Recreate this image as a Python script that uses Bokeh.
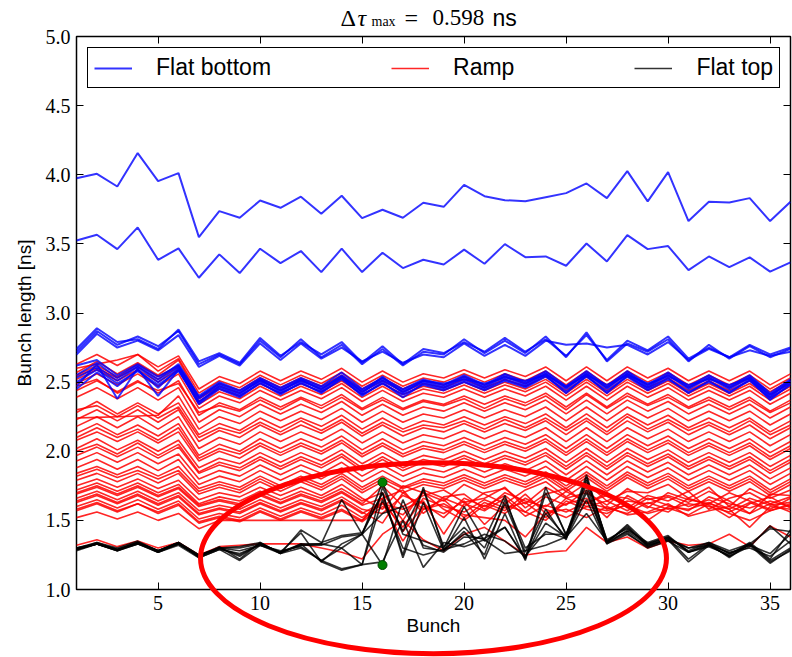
import numpy as np
from bokeh.plotting import figure
from bokeh.layouts import column
from bokeh.models import (FixedTicker, PrintfTickFormatter, LinearAxis, Range1d, Label,
                          Legend, LegendItem)
from bokeh.embed import file_html
from bokeh.resources import INLINE

bunches = list(range(1, 37))
x_ticks = [5, 10, 15, 20, 25, 30, 35]
y_ticks = [1.0, 1.5, 2.0, 2.5, 3.0, 3.5, 4.0, 4.5, 5.0]
title_value = "0.598"

# ---- Flat bottom (blue) ----
blue_1 = [3.975,4.007,3.915,4.157,3.954,4.012,3.549,3.737,3.689,3.814,3.761,3.841,3.718,3.848,3.686,3.747,3.689,3.797,3.768,3.927,3.845,3.816,3.809,3.838,3.867,3.937,3.831,4.026,3.807,4.019,3.665,3.804,3.800,3.831,3.665,3.804]
blue_2 = [3.525,3.566,3.462,3.619,3.385,3.467,3.255,3.424,3.289,3.465,3.361,3.448,3.296,3.465,3.296,3.436,3.325,3.385,3.351,3.458,3.356,3.498,3.404,3.409,3.342,3.503,3.373,3.563,3.462,3.484,3.310,3.409,3.332,3.402,3.299,3.366]
blue_3 = [2.72,2.87,2.77,2.83,2.76,2.87,2.63,2.70,2.63,2.80,2.68,2.81,2.68,2.77,2.63,2.74,2.62,2.72,2.70,2.81,2.71,2.80,2.71,2.83,2.68,2.86,2.65,2.78,2.72,2.81,2.65,2.77,2.67,2.76,2.68,2.74]
blue_4 = [2.70,2.85,2.75,2.80,2.73,2.84,2.61,2.69,2.62,2.78,2.66,2.78,2.67,2.75,2.65,2.72,2.64,2.70,2.68,2.78,2.69,2.77,2.69,2.80,2.77,2.78,2.75,2.77,2.70,2.79,2.66,2.74,2.68,2.73,2.69,2.72]
blue_5 = [2.74,2.89,2.79,2.81,2.74,2.88,2.65,2.71,2.64,2.82,2.69,2.79,2.70,2.79,2.64,2.76,2.63,2.74,2.71,2.79,2.72,2.82,2.72,2.81,2.69,2.84,2.66,2.80,2.73,2.83,2.67,2.75,2.68,2.77,2.70,2.75]
blue_6 = [2.53,2.61,2.51,2.61,2.50,2.61,2.38,2.48,2.42,2.51,2.44,2.51,2.45,2.55,2.43,2.51,2.43,2.50,2.46,2.53,2.46,2.54,2.48,2.56,2.45,2.56,2.45,2.56,2.46,2.55,2.45,2.53,2.45,2.53,2.40,2.50]
blue_7 = [2.50,2.59,2.49,2.58,2.48,2.58,2.36,2.46,2.40,2.49,2.42,2.49,2.43,2.52,2.41,2.49,2.41,2.48,2.44,2.50,2.44,2.51,2.46,2.54,2.43,2.54,2.43,2.54,2.44,2.52,2.43,2.50,2.43,2.51,2.38,2.48]
blue_8 = [2.55,2.64,2.53,2.62,2.52,2.63,2.40,2.50,2.44,2.53,2.46,2.53,2.47,2.57,2.45,2.53,2.45,2.52,2.48,2.55,2.48,2.56,2.50,2.58,2.47,2.58,2.47,2.58,2.48,2.57,2.47,2.55,2.47,2.55,2.42,2.52]
blue_9 = [2.47,2.63,2.38,2.60,2.40,2.59,2.34,2.45,2.39,2.50,2.41,2.50,2.42,2.53,2.40,2.50,2.39,2.49,2.45,2.51,2.45,2.52,2.47,2.55,2.42,2.55,2.42,2.55,2.45,2.53,2.42,2.51,2.42,2.52,2.37,2.49]
blue_10 = [2.62,2.66,2.55,2.63,2.54,2.62,2.39,2.49,2.43,2.52,2.45,2.52,2.44,2.54,2.44,2.52,2.44,2.51,2.47,2.54,2.47,2.55,2.49,2.57,2.46,2.57,2.46,2.57,2.47,2.56,2.46,2.54,2.46,2.54,2.41,2.51]
blue_11 = [2.45,2.57,2.47,2.59,2.46,2.60,2.35,2.47,2.41,2.52,2.43,2.52,2.46,2.54,2.42,2.54,2.42,2.51,2.49,2.52,2.49,2.53,2.51,2.55,2.47,2.55,2.48,2.55,2.49,2.54,2.48,2.52,2.48,2.53,2.39,2.51]
flat_bottom = [blue_1, blue_2, blue_3, blue_4, blue_5, blue_6, blue_7, blue_8, blue_9, blue_10, blue_11]

# ---- Ramp (red) ----
red_1 = [2.63,2.70,2.62,2.70,2.61,2.69,2.45,2.54,2.49,2.58,2.51,2.58,2.52,2.60,2.50,2.58,2.50,2.56,2.53,2.59,2.53,2.59,2.54,2.61,2.51,2.61,2.51,2.61,2.53,2.60,2.51,2.58,2.51,2.58,2.48,2.56]
red_2 = [2.60,2.63,2.66,2.70,2.58,2.67,2.42,2.51,2.46,2.55,2.48,2.55,2.49,2.57,2.47,2.55,2.47,2.53,2.50,2.56,2.50,2.56,2.51,2.58,2.48,2.58,2.48,2.58,2.50,2.57,2.48,2.55,2.48,2.55,2.45,2.53]
red_3 = [2.57,2.65,2.56,2.64,2.55,2.66,2.39,2.49,2.44,2.53,2.46,2.53,2.47,2.55,2.45,2.53,2.45,2.51,2.48,2.54,2.48,2.54,2.49,2.56,2.46,2.56,2.46,2.56,2.48,2.55,2.46,2.53,2.46,2.53,2.43,2.51]
red_4 = [2.55,2.62,2.54,2.63,2.54,2.62,2.38,2.47,2.42,2.51,2.44,2.51,2.45,2.53,2.43,2.51,2.43,2.49,2.46,2.52,2.46,2.52,2.47,2.54,2.44,2.54,2.44,2.54,2.46,2.53,2.44,2.51,2.44,2.51,2.41,2.49]
red_5 = [2.54,2.60,2.53,2.61,2.52,2.61,2.36,2.45,2.40,2.49,2.42,2.49,2.43,2.51,2.41,2.49,2.41,2.47,2.44,2.50,2.44,2.50,2.45,2.52,2.42,2.52,2.42,2.52,2.44,2.51,2.42,2.49,2.42,2.49,2.39,2.47]
red_6 = [2.52,2.59,2.51,2.59,2.50,2.59,2.34,2.43,2.38,2.47,2.40,2.47,2.41,2.49,2.39,2.47,2.39,2.45,2.42,2.48,2.42,2.48,2.43,2.50,2.40,2.50,2.40,2.50,2.42,2.49,2.40,2.47,2.40,2.47,2.37,2.45]
red_7 = [2.49,2.56,2.48,2.56,2.47,2.56,2.31,2.40,2.35,2.44,2.37,2.44,2.38,2.46,2.36,2.44,2.36,2.42,2.39,2.45,2.39,2.45,2.40,2.47,2.37,2.47,2.37,2.47,2.39,2.46,2.37,2.44,2.37,2.44,2.34,2.42]
red_8 = [2.44,2.51,2.43,2.51,2.42,2.51,2.26,2.35,2.30,2.39,2.32,2.39,2.33,2.41,2.31,2.39,2.31,2.37,2.34,2.40,2.34,2.40,2.35,2.42,2.32,2.42,2.32,2.42,2.34,2.41,2.32,2.39,2.32,2.39,2.29,2.37]
red_9 = [2.39,2.46,2.38,2.46,2.37,2.46,2.21,2.30,2.25,2.34,2.27,2.34,2.28,2.36,2.26,2.34,2.26,2.32,2.29,2.35,2.29,2.35,2.30,2.37,2.27,2.37,2.27,2.37,2.29,2.36,2.27,2.34,2.27,2.34,2.24,2.32]
red_10 = [2.24,2.245,2.25,2.255,2.26,2.40,2.16,2.25,2.20,2.29,2.22,2.29,2.23,2.31,2.21,2.29,2.21,2.27,2.24,2.30,2.24,2.30,2.25,2.32,2.22,2.32,2.22,2.32,2.24,2.31,2.22,2.29,2.22,2.29,2.19,2.27]
red_11 = [2.28,2.36,2.27,2.35,2.27,2.35,2.12,2.20,2.15,2.24,2.17,2.24,2.18,2.26,2.16,2.24,2.16,2.22,2.19,2.25,2.19,2.25,2.20,2.27,2.17,2.27,2.17,2.27,2.19,2.26,2.17,2.24,2.17,2.24,2.14,2.22]
red_12 = [2.23,2.30,2.22,2.30,2.21,2.30,2.07,2.15,2.10,2.19,2.12,2.19,2.13,2.21,2.11,2.19,2.11,2.17,2.14,2.20,2.14,2.20,2.15,2.22,2.12,2.22,2.12,2.22,2.14,2.21,2.12,2.19,2.12,2.19,2.09,2.17]
red_13 = [2.18,2.25,2.17,2.25,2.16,2.25,2.02,2.10,2.05,2.14,2.07,2.14,2.08,2.16,2.06,2.14,2.06,2.12,2.09,2.15,2.09,2.15,2.10,2.17,2.07,2.17,2.07,2.17,2.09,2.16,2.07,2.14,2.07,2.14,2.04,2.12]
red_14 = [2.13,2.20,2.12,2.19,2.11,2.20,1.97,2.05,2.00,2.09,2.02,2.09,2.03,2.11,2.01,2.09,2.01,2.07,2.04,2.10,2.04,2.10,2.05,2.12,2.02,2.12,2.02,2.12,2.04,2.11,2.02,2.09,2.02,2.09,1.99,2.07]
red_15 = [2.08,2.14,2.07,2.14,2.06,2.14,1.93,2.00,1.95,2.04,1.97,2.04,1.98,2.06,1.96,2.04,1.96,2.02,1.99,2.05,1.99,2.05,2.00,2.07,1.97,2.07,1.97,2.07,1.99,2.06,1.97,2.04,1.97,2.04,1.94,2.02]
red_16 = [2.02,2.09,2.01,2.08,2.00,2.08,1.88,1.95,1.91,1.99,1.92,1.99,1.93,2.01,1.91,1.99,1.91,1.97,1.94,2.00,1.94,2.00,1.95,2.02,1.92,2.02,1.92,2.02,1.94,2.01,1.92,1.99,1.92,1.99,1.89,1.97]
red_17 = [1.97,2.03,1.96,2.03,1.95,2.03,1.84,1.90,1.86,1.94,1.87,1.94,1.88,1.96,1.86,1.94,1.86,1.92,1.89,1.95,1.89,1.95,1.90,1.97,1.87,1.97,1.87,1.97,1.89,1.96,1.87,1.94,1.87,1.94,1.84,1.92]
red_18 = [1.93,1.99,1.92,1.99,1.91,1.98,1.80,1.86,1.82,1.90,1.83,1.90,1.84,1.92,1.82,1.90,1.82,1.88,1.85,1.91,1.85,1.91,1.86,1.93,1.83,1.93,1.83,1.93,1.85,1.92,1.83,1.90,1.83,1.90,1.80,1.88]
red_19 = [1.88,1.94,1.87,1.94,1.86,1.94,1.76,1.82,1.78,1.86,1.79,1.86,1.80,1.88,1.78,1.86,1.78,1.84,1.81,1.87,1.81,1.87,1.82,1.89,1.79,1.89,1.79,1.89,1.81,1.88,1.79,1.86,1.79,1.86,1.76,1.84]
red_20 = [1.84,1.89,1.83,1.89,1.82,1.89,1.73,1.78,1.74,1.82,1.75,1.82,1.76,1.84,1.74,1.82,1.74,1.80,1.77,1.83,1.77,1.83,1.78,1.85,1.75,1.85,1.75,1.85,1.77,1.84,1.75,1.82,1.75,1.82,1.72,1.80]
red_21 = [1.79,1.84,1.78,1.84,1.77,1.84,1.69,1.74,1.70,1.78,1.71,1.78,1.72,1.80,1.70,1.78,1.70,1.76,1.73,1.79,1.73,1.79,1.74,1.81,1.71,1.81,1.71,1.81,1.73,1.80,1.71,1.78,1.71,1.78,1.68,1.76]
red_22 = [1.75,1.80,1.74,1.80,1.73,1.79,1.65,1.70,1.67,1.74,1.68,1.74,1.68,1.76,1.66,1.58,1.75,1.70,1.64,1.76,1.69,1.62,1.72,1.78,1.67,1.77,1.64,1.71,1.70,1.76,1.66,1.74,1.60,1.73,1.66,1.72]
red_23 = [1.72,1.77,1.71,1.77,1.70,1.76,1.62,1.67,1.64,1.71,1.65,1.71,1.66,1.73,1.64,1.70,1.50,1.72,1.66,1.60,1.70,1.73,1.62,1.74,1.66,1.70,1.61,1.73,1.65,1.68,1.63,1.71,1.64,1.55,1.69,1.68]
red_24 = [1.69,1.74,1.68,1.74,1.67,1.73,1.60,1.64,1.61,1.68,1.62,1.68,1.63,1.70,1.61,1.66,1.72,1.55,1.67,1.69,1.58,1.70,1.64,1.60,1.71,1.63,1.68,1.66,1.59,1.70,1.65,1.62,1.70,1.64,1.58,1.66]
red_25 = [1.66,1.71,1.65,1.71,1.64,1.70,1.57,1.61,1.58,1.65,1.59,1.65,1.60,1.67,1.58,1.55,1.68,1.62,1.52,1.66,1.60,1.68,1.56,1.67,1.61,1.72,1.58,1.64,1.62,1.67,1.60,1.65,1.58,1.66,1.61,1.63]
red_26 = [1.63,1.68,1.62,1.68,1.61,1.67,1.54,1.58,1.55,1.62,1.56,1.62,1.57,1.64,1.55,1.63,1.45,1.66,1.60,1.56,1.65,1.59,1.63,1.52,1.66,1.60,1.64,1.57,1.66,1.61,1.57,1.67,1.62,1.59,1.64,1.60]
red_27 = [1.60,1.65,1.59,1.65,1.58,1.64,1.51,1.55,1.52,1.59,1.53,1.59,1.54,1.61,1.52,1.62,1.58,1.64,1.40,1.62,1.57,1.66,1.53,1.61,1.56,1.63,1.59,1.55,1.63,1.58,1.62,1.60,1.56,1.63,1.57,1.61]
red_28 = [1.57,1.62,1.56,1.62,1.55,1.61,1.48,1.52,1.49,1.56,1.50,1.56,1.51,1.57,1.49,1.60,1.54,1.70,1.58,1.50,1.61,1.55,1.66,1.58,1.52,1.60,1.57,1.61,1.55,1.59,1.54,1.62,1.58,1.45,1.60,1.58]
red_29 = [1.52,1.56,1.51,1.56,1.50,1.55,1.44,1.50,1.50,1.50,1.50,1.50,1.50,1.50,1.50,1.63,1.35,1.58,1.62,1.54,1.52,1.50,1.38,1.55,1.58,1.52,1.60,1.54,1.56,1.62,1.53,1.57,1.60,1.55,1.62,1.56]
red_30 = [1.32,1.36,1.31,1.35,1.30,1.34,1.25,1.31,1.32,1.33,1.33,1.33,1.30,1.27,1.22,1.40,1.50,1.36,1.28,1.40,1.45,1.35,1.25,1.27,1.28,1.45,1.34,1.38,1.30,1.35,1.32,1.33,1.40,1.31,1.46,1.38]
red_31 = [2.47,2.52,2.42,2.50,2.44,2.49,2.28,2.33,2.29,2.37,2.30,2.38,2.31,2.39,2.30,2.37,2.30,2.36,2.33,2.38,2.31,2.38,2.33,2.40,2.30,2.41,2.31,2.40,2.33,2.39,2.31,2.37,2.30,2.37,2.28,2.35]
red_32 = [2.30,2.33,2.25,2.33,2.24,2.32,2.10,2.17,2.13,2.21,2.14,2.22,2.15,2.23,2.13,2.21,2.14,2.19,2.17,2.22,2.16,2.23,2.17,2.24,2.15,2.24,2.14,2.25,2.16,2.23,2.15,2.21,2.14,2.22,2.12,2.19]
red_33 = [2.10,2.17,2.10,2.16,2.08,2.17,1.95,2.02,1.98,2.06,1.99,2.06,2.00,2.08,1.98,2.06,1.98,2.04,2.01,2.07,2.01,2.07,2.02,2.09,1.99,2.09,1.99,2.09,2.01,2.08,1.99,2.06,1.99,2.06,1.96,2.04]
red_34 = [2.00,2.05,1.98,2.06,1.97,2.05,1.85,1.92,1.88,1.96,1.89,1.96,1.90,1.98,1.88,1.96,1.88,1.94,1.91,1.97,1.91,1.97,1.92,1.99,1.89,1.99,1.89,1.99,1.91,1.98,1.89,1.96,1.89,1.96,1.86,1.94]
red_35 = [1.82,1.87,1.81,1.86,1.80,1.86,1.71,1.76,1.72,1.80,1.73,1.80,1.74,1.82,1.72,1.80,1.73,1.78,1.75,1.81,1.75,1.81,1.76,1.83,1.73,1.83,1.73,1.83,1.75,1.82,1.73,1.80,1.73,1.80,1.70,1.78]
red_36 = [1.70,1.75,1.69,1.75,1.68,1.74,1.61,1.65,1.62,1.69,1.63,1.69,1.64,1.71,1.62,1.75,1.60,1.68,1.72,1.63,1.66,1.74,1.59,1.69,1.73,1.62,1.70,1.59,1.68,1.64,1.71,1.58,1.66,1.70,1.62,1.67]
red_37 = [1.64,1.69,1.63,1.69,1.62,1.68,1.55,1.59,1.56,1.63,1.57,1.63,1.58,1.65,1.56,1.48,1.70,1.58,1.65,1.52,1.63,1.57,1.69,1.55,1.62,1.66,1.52,1.68,1.60,1.56,1.66,1.61,1.52,1.62,1.67,1.59]
red_38 = [1.58,1.63,1.57,1.62,1.56,1.62,1.49,1.53,1.50,1.57,1.51,1.57,1.52,1.58,1.50,1.66,1.42,1.60,1.55,1.64,1.47,1.61,1.56,1.50,1.64,1.58,1.55,1.62,1.50,1.60,1.58,1.63,1.55,1.50,1.57,1.62]
ramp = [red_1, red_2, red_3, red_4, red_5, red_6, red_7, red_8, red_9, red_10,
        red_11, red_12, red_13, red_14, red_15, red_16, red_17, red_18, red_19, red_20,
        red_21, red_22, red_23, red_24, red_25, red_26, red_27, red_28, red_29, red_30,
        red_31, red_32, red_33, red_34, red_35, red_36, red_37, red_38]

# ---- Flat top (black) ----
black_1 = [1.30,1.34,1.29,1.34,1.28,1.34,1.25,1.30,1.31,1.34,1.26,1.33,1.33,1.65,1.40,1.775,1.40,1.35,1.30,1.60,1.35,1.45,1.22,1.74,1.39,1.83,1.34,1.46,1.31,1.37,1.22,1.33,1.23,1.33,1.21,1.30]
black_2 = [1.29,1.33,1.28,1.34,1.27,1.33,1.24,1.31,1.22,1.34,1.26,1.43,1.34,1.39,1.41,1.70,1.25,1.74,1.29,1.40,1.36,1.68,1.24,1.48,1.38,1.79,1.36,1.44,1.33,1.38,1.28,1.34,1.26,1.32,1.26,1.40]
black_3 = [1.30,1.33,1.29,1.33,1.28,1.33,1.24,1.30,1.24,1.33,1.27,1.41,1.20,1.33,1.40,1.177,1.65,1.30,1.28,1.52,1.22,1.55,1.21,1.70,1.40,1.76,1.33,1.43,1.34,1.39,1.27,1.31,1.25,1.34,1.22,1.43]
black_4 = [1.29,1.34,1.30,1.35,1.28,1.34,1.23,1.29,1.26,1.32,1.27,1.32,1.33,1.30,1.18,1.74,1.42,1.72,1.31,1.45,1.30,1.62,1.27,1.58,1.36,1.81,1.35,1.45,1.32,1.36,1.30,1.32,1.27,1.30,1.24,1.35]
black_5 = [1.28,1.33,1.28,1.33,1.27,1.33,1.24,1.30,1.28,1.32,1.28,1.31,1.21,1.30,1.40,1.70,1.23,1.63,1.28,1.42,1.25,1.65,1.30,1.40,1.40,1.72,1.34,1.47,1.33,1.38,1.27,1.33,1.26,1.32,1.19,1.29]
black_6 = [1.29,1.33,1.29,1.34,1.28,1.34,1.25,1.30,1.30,1.33,1.27,1.32,1.32,1.38,1.40,1.55,1.60,1.32,1.27,1.38,1.37,1.45,1.23,1.55,1.38,1.55,1.35,1.42,1.32,1.37,1.30,1.34,1.28,1.33,1.44,1.42]
black_7 = [1.30,1.33,1.29,1.34,1.28,1.33,1.24,1.30,1.25,1.33,1.27,1.33,1.20,1.14,1.18,1.65,1.30,1.25,1.29,1.33,1.40,1.35,1.24,1.42,1.37,1.65,1.33,1.40,1.31,1.36,1.20,1.32,1.24,1.33,1.20,1.28]
black_8 = [1.29,1.33,1.28,1.33,1.27,1.32,1.23,1.29,1.21,1.32,1.26,1.30,1.21,1.15,1.18,1.20,1.50,1.16,1.34,1.31,1.36,1.26,1.28,1.32,1.38,1.70,1.34,1.41,1.30,1.35,1.27,1.32,1.24,1.31,1.46,1.33]
flat_top = [black_1, black_2, black_3, black_4, black_5, black_6, black_7, black_8]

# Annotation ellipse (data-space centre and half-axes)
ell_cx, ell_cy, ell_a, ell_b = 18.5, 1.226, 11.42, 0.69

SANS = "Liberation Sans"
SERIF = "Liberation Serif"

FW, FH = 792, 657
BL, BR, BT, BB = 76, 2, 36, 68
frame_w = FW - BL - BR
frame_h = FH - BT - BB

p = figure(width=FW, height=FH, x_range=Range1d(1, 36), y_range=Range1d(1, 5),
           output_backend="svg", toolbar_location=None,
           min_border_left=BL, min_border_right=BR, min_border_top=BT, min_border_bottom=BB)
p.background_fill_color = "white"
p.border_fill_color = "white"
p.grid.visible = False
p.outline_line_color = "black"
p.outline_line_width = 1.5
p.outline_line_alpha = 1.0

r_red = p.multi_line([bunches] * len(ramp), ramp, line_color="red", line_alpha=0.85, line_width=1.6)
r_blue = p.multi_line([bunches] * len(flat_bottom), flat_bottom, line_color="blue", line_alpha=0.8, line_width=2)
r_black = p.multi_line([bunches] * len(flat_top), flat_top, line_color="black", line_alpha=0.8, line_width=1.6)

# extreme points of flat-top bunch 16
col16 = [row[15] for row in flat_top]
p.scatter([16, 16], [max(col16), min(col16)], size=9, fill_color="green",
          line_color="#004400", line_width=1)

# axes
xa = p.xaxis[0]
xa.ticker = FixedTicker(ticks=x_ticks)
xa.axis_label = "Bunch"
ya = p.yaxis[0]
ya.ticker = FixedTicker(ticks=y_ticks)
ya.formatter = PrintfTickFormatter(format="%.1f")
ya.axis_label = "Bunch length [ns]"
for ax in (xa, ya):
    ax.axis_line_color = None
    ax.major_tick_in = 7
    ax.major_tick_out = 0
    ax.minor_tick_in = 0
    ax.minor_tick_out = 0
    ax.major_tick_line_color = "black"
    ax.major_label_text_font = SERIF
    ax.major_label_text_font_size = "20px"
    ax.major_label_text_color = "black"
    ax.axis_label_text_font = SANS
    ax.axis_label_text_font_size = "19px"
    ax.axis_label_text_font_style = "normal"
    ax.axis_label_text_color = "black"
    ax.major_label_standoff = 6
xa.axis_label_standoff = 2
ya.axis_label_standoff = 8

for loc, ticks in (("right", y_ticks), ("above", x_ticks)):
    ax = LinearAxis(ticker=FixedTicker(ticks=ticks), axis_line_color=None,
                    major_tick_in=7, major_tick_out=0, minor_tick_in=0, minor_tick_out=0,
                    major_label_text_font_size="0px", major_label_standoff=0,
                    major_label_overrides={t: "" for t in ticks})
    p.add_layout(ax, loc)

# legend
legend = Legend(items=[LegendItem(label="Flat bottom", renderers=[r_blue]),
                       LegendItem(label="Ramp", renderers=[r_red]),
                       LegendItem(label="Flat top", renderers=[r_black])],
                orientation="horizontal", location="top_left", margin=11,
                padding=6, spacing=120, glyph_width=38, glyph_height=8,
                label_height=8, label_standoff=24,
                label_text_font=SANS, label_text_font_size="23px", label_text_color="black",
                border_line_color="black", border_line_width=1.5, border_line_alpha=1.0,
                background_fill_color="white", background_fill_alpha=1.0)
p.add_layout(legend)

# transparent overlay figure: same x scale, frame spans the whole canvas height
uy = (5 - 1) / frame_h
p2 = figure(width=FW, height=FH, x_range=Range1d(1, 36),
            y_range=Range1d(1 - BB * uy, 5 + BT * uy), x_axis_type=None, y_axis_type=None,
            output_backend="svg", toolbar_location=None,
            min_border_left=BL, min_border_right=BR, min_border_top=0, min_border_bottom=0)
p2.outline_line_color = None
p2.background_fill_color = None
p2.border_fill_color = None
p2.ellipse(x=[ell_cx], y=[ell_cy], width=[2 * ell_a], height=[2 * ell_b],
           fill_alpha=0, line_color="red", line_width=5)

# title pieces (screen units relative to the overlay frame: x from left, y from bottom)
base_y = FH - 17
def title_piece(x, dy, text, font, size, style="normal"):
    p2.add_layout(Label(x=x, y=base_y + dy, x_units="screen", y_units="screen", text=text,
                        text_font=font, text_font_size=size, text_font_style=style,
                        text_baseline="alphabetic", text_color="black"))
title_piece(264, 0, "Δ", SERIF, "24px")
title_piece(281, 0, "τ", SERIF, "24px", "italic")
title_piece(295, -4, "max", SERIF, "14px")
title_piece(328, 0, "=", SERIF, "24px")
title_piece(356, 0, title_value, SERIF, "23px")
title_piece(416, 0, "ns", SANS, "23px")
p2.styles = {"margin-top": f"-{FH}px"}

layout = column(p, p2, spacing=0)
open("out.html", "w").write(file_html(layout, INLINE))
